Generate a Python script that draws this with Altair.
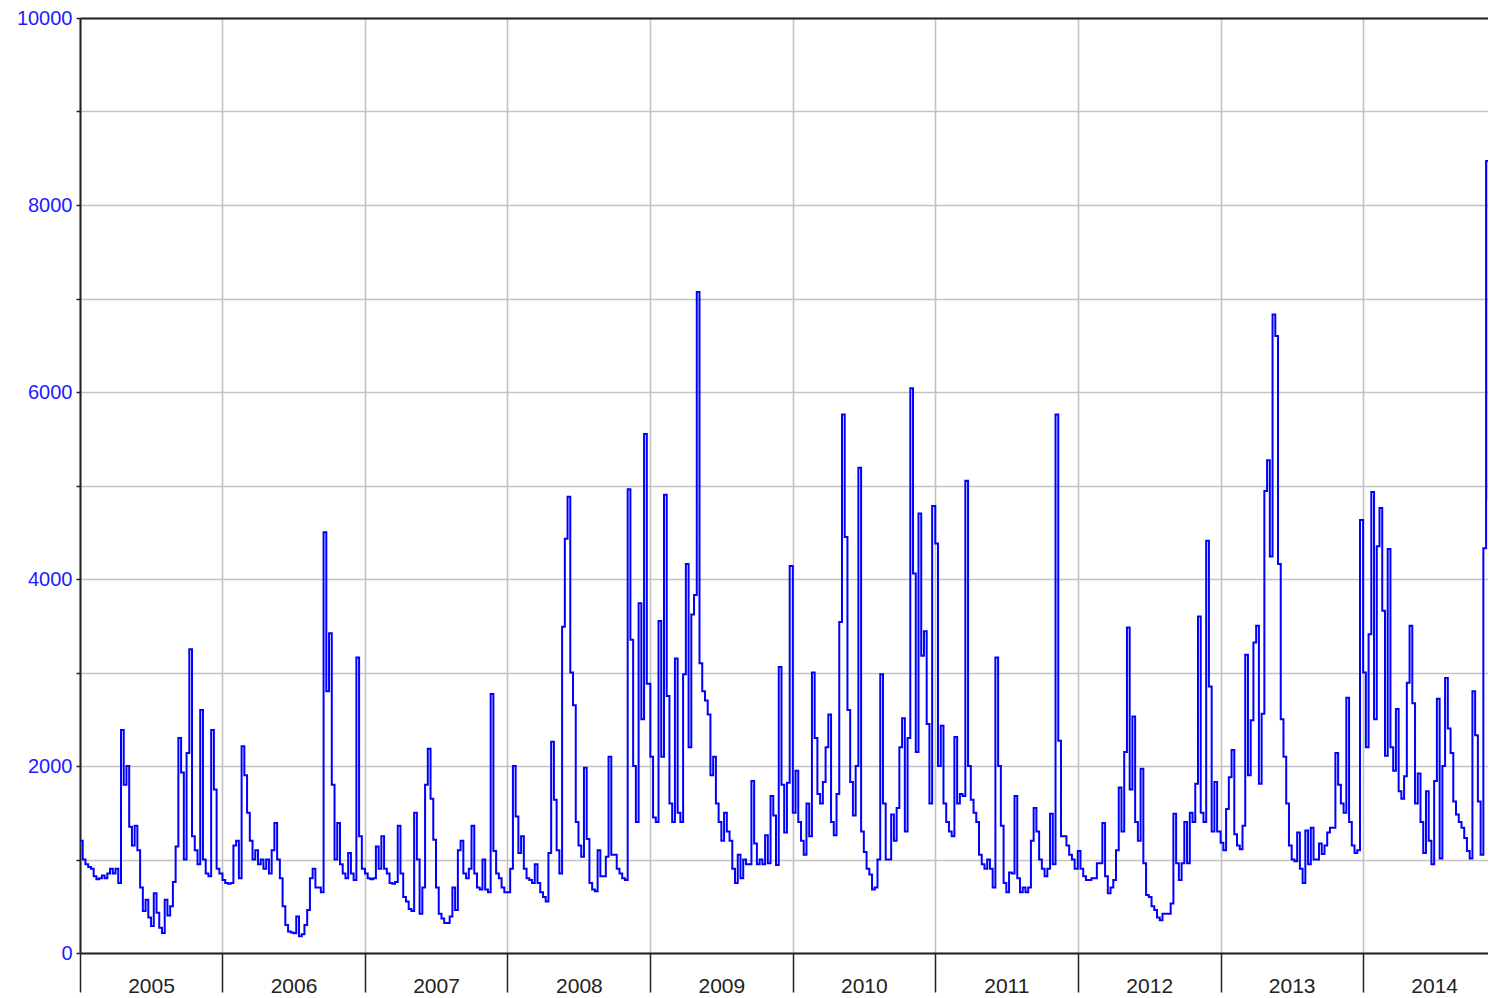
import altair as alt
import pandas as pd

# Weekly values (one list per year, week 0 = Jan 1)
v2005 = [1200, 1000, 950, 920, 900, 820, 790, 800, 830, 800, 850, 900, 850, 900, 750, 2385,
         1800, 2000, 1350, 1150, 1360, 1100, 700, 450, 570, 380, 290, 640, 430, 270, 215, 570,
         400, 500, 760, 1140, 2300, 1930, 1000, 2140, 3250, 1250, 1100, 950, 2600, 1000, 850,
         820, 2385, 1750, 900, 850]
v2006 = [780, 750, 740, 750, 1150, 1200, 800, 2210, 1900, 1500, 1200, 1000, 1100, 950, 1000,
         900, 1000, 850, 1100, 1390, 1000, 800, 500, 300, 230, 220, 210, 390, 180, 200, 300,
         460, 800, 900, 700, 700, 650, 4500, 2800, 3420, 1800, 1000, 1390, 950, 850, 800, 1070,
         850, 780, 3160, 1250, 900]
v2007 = [850, 800, 790, 800, 1140, 900, 1250, 900, 850, 750, 740, 760, 1360, 850, 600, 550,
         470, 450, 1500, 1000, 420, 700, 1800, 2185, 1650, 1210, 700, 420, 370, 320, 320, 390,
         700, 460, 1100, 1200, 850, 800, 900, 1360, 850, 700, 680, 1000, 680, 650, 2770, 1090,
         850, 800, 700, 650]
v2008 = [650, 900, 2000, 1460, 1070, 1250, 900, 800, 780, 750, 950, 750, 650, 600, 550, 1070,
         2260, 1640, 1100, 850, 3490, 4430, 4880, 3000, 2650, 1400, 1150, 1030, 1980, 1220, 750,
         680, 660, 1100, 820, 820, 1030, 2100, 1050, 1050, 900, 850, 800, 780, 4960, 3350, 2000,
         1400, 3740, 2500, 5550, 2880]
v2009 = [2100, 1450, 1400, 3550, 2100, 4900, 2750, 1600, 1400, 3150, 1500, 1400, 2980, 4160,
         2200, 3620, 3830, 7070, 3100, 2800, 2700, 2550, 1900, 2100, 1600, 1400, 1200, 1500, 1300,
         1200, 900, 750, 1050, 800, 1000, 950, 950, 1840, 1170, 950, 1000, 950, 1260, 960, 1680,
         1470, 940, 3060, 1800, 1290, 1820, 4140]
v2010 = [1500, 1950, 1400, 1200, 1050, 1600, 1250, 3000, 2300, 1700, 1600, 1830, 2200, 2550,
         1400, 1260, 1700, 3540, 5760, 4450, 2600, 1830, 1470, 2000, 5190, 1300, 1080, 900, 840,
         680, 700, 1000, 2980, 1600, 1000, 1000, 1480, 1200, 1550, 2200, 2510, 1300, 2300, 6040,
         4060, 2150, 4700, 3180, 3440, 2450, 1600, 4780]
v2011 = [4380, 2000, 2430, 1600, 1400, 1300, 1250, 2310, 1600, 1700, 1680, 5050, 2000, 1640,
         1500, 1400, 1050, 950, 900, 1000, 900, 700, 3160, 2000, 1360, 750, 650, 860, 850, 1680,
         800, 650, 700, 650, 700, 1200, 1550, 1300, 1000, 900, 820, 900, 1490, 950, 5760, 2270,
         1250, 1250, 1150, 1050, 1000, 900]
v2012 = [1090, 900, 820, 780, 780, 800, 800, 960, 960, 1390, 820, 640, 700, 780, 1100, 1770,
         1300, 2150, 3480, 1750, 2530, 1400, 1200, 1970, 960, 620, 600, 500, 460, 380, 350, 420,
         420, 420, 530, 1490, 960, 780, 960, 1400, 960, 1500, 1400, 1810, 3600, 1500, 1400, 4410,
         2850, 1300, 1830, 1300]
v2013 = [1180, 1100, 1540, 1880, 2170, 1270, 1150, 1110, 1360, 3190, 1900, 2490, 3320, 3500,
         1810, 2560, 4940, 5270, 4240, 6830, 6600, 4160, 2500, 2100, 1600, 1150, 1000, 980, 1290,
         900, 750, 1310, 950, 1340, 1000, 1000, 1170, 1060, 1150, 1290, 1340, 1340, 2140, 1800,
         1600, 1500, 2730, 1400, 1150, 1070, 1100, 4630]
v2014 = [3000, 2200, 3410, 4930, 2500, 4350, 4760, 3660, 2110, 4320, 2200, 1950, 2610, 1730,
         1650, 1890, 2890, 3500, 2670, 1600, 1920, 1400, 1070, 1730, 1200, 950, 1840, 2720, 1010,
         2000, 2940, 2400, 2140, 1620, 1480, 1400, 1340, 1230, 1090, 1010, 2800, 2330, 1620, 1050,
         4330, 8470, 4850, 3150, 5900]

years = [2005, 2006, 2007, 2008, 2009, 2010, 2011, 2012, 2013, 2014]
series = [v2005, v2006, v2007, v2008, v2009, v2010, v2011, v2012, v2013, v2014]
y_ticks = list(range(0, 10001, 1000))

rows = []
for yr, vals in zip(years, series):
    start = pd.Timestamp(f"{yr}-01-01")
    for k, v in enumerate(vals):
        rows.append({"date": (start + pd.Timedelta(days=7 * k)).strftime("%Y-%m-%d"), "value": v})
df = pd.DataFrame(rows)

FONT = "Liberation Sans"
GRID = "#c2c2c2"
DARK = "#222222"

jan1 = [alt.DateTime(year=y, month=1, date=1, utc=True) for y in years]
mid = [alt.DateTime(year=y, month=7, date=2, utc=True) for y in years]

xscale = alt.Scale(type="utc",
                   domain=[alt.DateTime(year=2005, month=1, date=1, utc=True),
                           alt.DateTime(year=2015, month=1, date=1, utc=True)],
                   range=[0, 1425.6])

y_enc = alt.Y("value:Q", scale=alt.Scale(domain=[0, 10000], nice=False),
              axis=alt.Axis(values=y_ticks, format="d",
                            labelExpr="datum.value % 2000 === 0 ? datum.label : ''",
                            grid=True, gridColor=GRID, gridWidth=1.6,
                            ticks=True, tickSize=4, tickColor=DARK, tickWidth=1.5,
                            domain=True, domainColor=DARK, domainWidth=2,
                            labelColor="#1c1cff", labelFont=FONT, labelFontSize=20,
                            labelPadding=4, title=None))

line = alt.Chart(df).mark_line(interpolate="step-after", color="#0000ff", strokeWidth=2).encode(
    x=alt.X("date:T", scale=xscale,
            axis=alt.Axis(values=jan1, orient="bottom", grid=True, gridColor=GRID, gridWidth=1.6,
                          ticks=True, tickSize=39, tickColor=DARK, tickWidth=1.5,
                          labels=False, domain=True, domainColor=DARK, domainWidth=2,
                          title=None)),
    y=y_enc,
)

labels = alt.Chart(df).mark_line(strokeOpacity=0).encode(
    x=alt.X("date:T", scale=xscale,
            axis=alt.Axis(values=mid, orient="bottom", format="%Y", labels=True, ticks=False,
                          grid=False, domain=False, labelPadding=22, labelFontSize=21,
                          labelFont=FONT, labelColor=DARK, title=None)),
    y=y_enc,
)

top = alt.Chart(df).mark_line(strokeOpacity=0).encode(
    x=alt.X("date:T", scale=xscale,
            axis=alt.Axis(orient="top", labels=False, ticks=False, grid=False, domain=True,
                          domainColor=DARK, domainWidth=2, title=None)),
    y=y_enc,
)

chart = (
    alt.layer(line, labels, top)
    .resolve_axis(x="independent")
    .properties(width=1408, height=935,
                autosize=alt.AutoSizeParams(type="none"),
                padding={"left": 72, "top": 10, "right": 0, "bottom": 42})
    .configure_view(stroke=None)
)

chart.save("out.html", embed_options={"renderer": "svg", "actions": False})
